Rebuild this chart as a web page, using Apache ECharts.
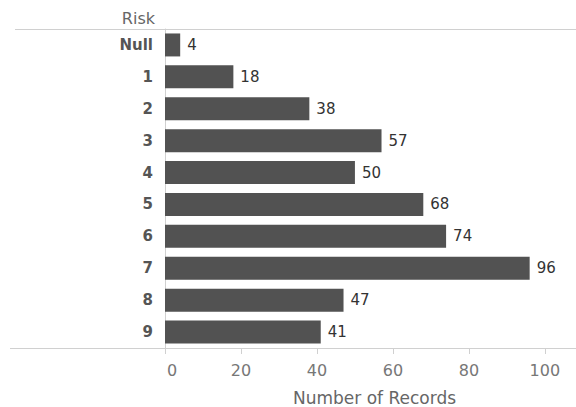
<!DOCTYPE html>
<html>
<head>
<meta charset="utf-8">
<script src="https://cdn.jsdelivr.net/npm/echarts@6/dist/echarts.min.js"></script>
<style>
  html, body { margin: 0; padding: 0; background: #fff; }
  #chart { width: 576px; height: 407px; }
</style>
</head>
<body>
<div id="chart"></div>
<script>
// Record counts per risk level
const riskLevels = ['Null', '1', '2', '3', '4', '5', '6', '7', '8', '9'];
const recordCounts = [4, 18, 38, 57, 50, 68, 74, 96, 47, 41];
const xTickValues = [0, 20, 40, 60, 80, 100];

const FONT = '"DejaVu Sans", Verdana, sans-serif';
const GRID_LEFT = 165, GRID_TOP = 29, GRID_BOTTOM = 59;
const W = 576, H = 407;

const chart = echarts.init(document.getElementById('chart'), null, { renderer: 'svg' });

chart.setOption({
  animation: false,
  backgroundColor: '#fff',
  grid: {
    left: GRID_LEFT, right: 0, top: GRID_TOP, bottom: GRID_BOTTOM,
    containLabel: false, outerBoundsMode: 'none'
  },
  xAxis: {
    type: 'value',
    min: 0,
    max: 108.2,
    interval: 20,
    name: 'Number of Records',
    nameLocation: 'middle',
    nameGap: 41,
    nameTextStyle: { color: '#666', fontSize: 17, fontFamily: FONT, padding: [0, 0, 0, 8] },
    axisLine: { show: true, lineStyle: { color: '#d0d0d0', width: 1 } },
    axisTick: { show: true, length: 6, lineStyle: { color: '#d0d0d0' },
      customValues: xTickValues },
    axisLabel: {
      color: '#777', fontSize: 16, fontFamily: FONT, margin: 14,
      customValues: xTickValues, showMinLabel: true, showMaxLabel: true,
      formatter: v => (v === 0 ? '{z|0}' : String(v)),
      rich: { z: { color: '#777', fontSize: 16, fontFamily: FONT, padding: [0, 0, 0, 14] } }
    },
    splitLine: { show: false }
  },
  yAxis: {
    type: 'category',
    data: riskLevels,
    inverse: true,
    axisLine: { show: true, lineStyle: { color: '#d0d0d0', width: 1 } },
    axisTick: { show: false },
    axisLabel: { color: '#555', fontSize: 15, fontWeight: 'bold', fontFamily: FONT, margin: 12 },
    splitLine: { show: false }
  },
  series: [{
    type: 'bar',
    data: recordCounts,
    barCategoryGap: '28%',
    itemStyle: { color: '#525252' },
    label: {
      show: true,
      position: 'right',
      distance: 7,
      color: '#333',
      fontSize: 15,
      fontFamily: FONT
    }
  }],
  graphic: [
    { type: 'line', silent: true,
      shape: { x1: 15, y1: GRID_TOP + 0.5, x2: W, y2: GRID_TOP + 0.5 },
      style: { stroke: '#d0d0d0', lineWidth: 1 } },
    { type: 'line', silent: true,
      shape: { x1: 10, y1: H - GRID_BOTTOM + 0.5, x2: GRID_LEFT, y2: H - GRID_BOTTOM + 0.5 },
      style: { stroke: '#d0d0d0', lineWidth: 1 } },
    { type: 'text', silent: true, right: W - 155, top: 10,
      style: { text: 'Risk', fill: '#666', fontSize: 16, fontFamily: FONT } }
  ]
});
</script>
</body>
</html>
